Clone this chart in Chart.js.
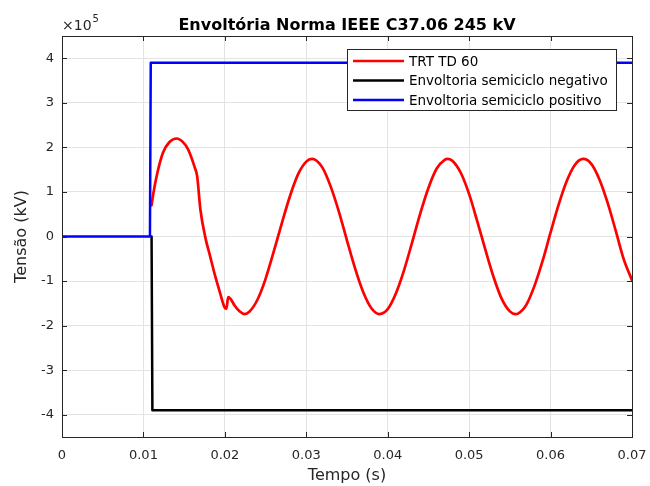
<html>
<head>
<script src="https://cdn.jsdelivr.net/npm/chart.js@4/dist/chart.umd.min.js"></script>
<style>body{margin:0;background:#fff}</style>
</head>
<body>
<canvas id="output" width="650" height="486"></canvas>
<script>
// values in units of 1e5 V, time in s
var tRed = [0.0110, 0.0112, 0.0117, 0.0124, 0.0132, 0.0141, 0.0148, 0.0155, 0.0163, 0.0166,
  0.0170, 0.0176, 0.0182, 0.0188, 0.0194, 0.0200, 0.0202, 0.0204, 0.0207, 0.0212, 0.0218, 0.0224,
  0.023, 0.024, 0.025, 0.026, 0.027, 0.028, 0.029, 0.030, 0.0307, 0.031, 0.032, 0.033, 0.034,
  0.035, 0.036, 0.037, 0.038, 0.039, 0.040, 0.041, 0.042, 0.043, 0.044, 0.045, 0.046, 0.047,
  0.0474, 0.048, 0.049, 0.050, 0.051, 0.052, 0.053, 0.054, 0.055, 0.0557, 0.056, 0.057, 0.058,
  0.059, 0.060, 0.061, 0.062, 0.063, 0.064, 0.065, 0.066, 0.067, 0.068, 0.069, 0.070];
var vRed = [0.70, 0.95, 1.42, 1.88, 2.12, 2.20, 2.13, 1.95, 1.55, 1.35,
  0.60, -0.02, -0.45, -0.88, -1.26, -1.60, -1.62, -1.36, -1.40, -1.55, -1.68, -1.74,
  -1.69, -1.42, -0.95, -0.34, 0.30, 0.91, 1.40, 1.68, 1.74, 1.73, 1.54, 1.12, 0.56,
  -0.09, -0.72, -1.25, -1.61, -1.74, -1.63, -1.28, -0.76, -0.13, 0.52, 1.09, 1.52, 1.72,
  1.74, 1.69, 1.42, 0.95, 0.34, -0.30, -0.91, -1.40, -1.68, -1.74, -1.73, -1.54, -1.12,
  -0.56, 0.09, 0.72, 1.25, 1.61, 1.74, 1.63, 1.28, 0.76, 0.13, -0.52, -0.98];
var tNeg = [0.0110, 0.0111, 0.070];
var vNeg = [0, -3.9, -3.9];
var tPos = [0, 0.0108, 0.0109, 0.070];
var vPos = [0, 0, 3.9, 3.9];
var xTicks = [0, 0.01, 0.02, 0.03, 0.04, 0.05, 0.06, 0.07];
var yTicks = [-4, -3, -2, -1, 0, 1, 2, 3, 4];

var FONT = '"DejaVu Sans", Verdana, sans-serif';
var INK = '#262626';

function pts(t, v) {
  return t.map(function (x, i) { return {x: x, y: v[i]}; });
}

var framePlugin = {
  id: 'frame',
  beforeDraw: function (chart) {
    var c = chart.ctx;
    c.save();
    c.fillStyle = '#fff';
    c.fillRect(0, 0, chart.width, chart.height);
    c.restore();
  },
  afterDraw: function (chart) {
    var c = chart.ctx, a = chart.chartArea;
    var xs = chart.scales.x, ys = chart.scales.y;
    c.save();
    // box + inward ticks
    c.strokeStyle = INK;
    c.lineWidth = 1;
    c.strokeRect(Math.round(a.left) + 0.5, Math.round(a.top) + 0.5,
      Math.round(a.right - a.left), Math.round(a.bottom - a.top));
    c.beginPath();
    xTicks.forEach(function (t) {
      var px = Math.round(xs.getPixelForValue(t)) + 0.5;
      c.moveTo(px, a.bottom); c.lineTo(px, a.bottom - 5);
      c.moveTo(px, a.top); c.lineTo(px, a.top + 5);
    });
    yTicks.forEach(function (v) {
      var py = Math.round(ys.getPixelForValue(v)) + 0.5;
      c.moveTo(a.left, py); c.lineTo(a.left + 5, py);
      c.moveTo(a.right, py); c.lineTo(a.right - 5, py);
    });
    c.stroke();

    // exponent label
    c.fillStyle = INK;
    c.textBaseline = 'alphabetic';
    c.font = '14px ' + FONT;
    c.fillText('\u00d710', 62, 30);
    var w = c.measureText('\u00d710').width;
    c.font = '10px ' + FONT;
    c.fillText('5', 62 + w + 1, 22);

    // title
    c.font = 'bold 16px ' + FONT;
    c.textAlign = 'center';
    c.fillStyle = '#000';
    c.fillText('Envoltória Norma IEEE C37.06 245 kV', (a.left + a.right) / 2, 30);

    // legend box
    var lx = 347.5, ly = 49.5, lw = 269, lh = 61;
    c.fillStyle = '#fff';
    c.fillRect(lx, ly, lw, lh);
    c.strokeStyle = INK;
    c.strokeRect(lx, ly, lw, lh);
    c.font = '13.5px ' + FONT;
    c.textAlign = 'left';
    c.textBaseline = 'middle';
    chart.data.datasets.forEach(function (ds, i) {
      var y = 61 + i * 19.5;
      c.strokeStyle = ds.borderColor;
      c.lineWidth = 2.5;
      c.beginPath();
      c.moveTo(353, y); c.lineTo(404, y);
      c.stroke();
      c.fillStyle = '#000';
      c.fillText(ds.label, 409, y + 1);
    });
    c.restore();
  }
};

var ctx = document.getElementById('output').getContext('2d');
var myChart = new Chart(ctx, {
  type: 'line',
  data: {
    datasets: [{
      label: 'TRT TD 60',
      data: pts(tRed, vRed),
      borderColor: '#ff0000',
      borderWidth: 2.7,
      cubicInterpolationMode: 'monotone',
      order: 3
    }, {
      label: 'Envoltoria semiciclo negativo',
      data: pts(tNeg, vNeg),
      borderColor: '#000000',
      borderWidth: 2.5,
      tension: 0,
      order: 2
    }, {
      label: 'Envoltoria semiciclo positivo',
      data: pts(tPos, vPos),
      borderColor: '#0000ff',
      borderWidth: 2.5,
      tension: 0,
      order: 1
    }]
  },
  options: {
    responsive: false,
    animation: false,
    parsing: false,
    elements: {point: {radius: 0}, line: {borderCapStyle: 'round', borderJoinStyle: 'round'}},
    layout: {padding: {top: 36, right: 18, left: 0, bottom: 0}},
    plugins: {legend: {display: false}, tooltip: {enabled: false}},
    scales: {
      x: {
        type: 'linear',
        min: 0,
        max: 0.07,
        afterFit: function (s) { s.height = 49; s.paddingLeft = 0; s.paddingRight = 0; },
        afterBuildTicks: function (s) { s.ticks = xTicks.map(function (v) { return {value: v}; }); },
        grid: {color: '#e3e3e3', drawTicks: false},
        border: {display: false},
        ticks: {
          padding: 11,
          color: INK,
          font: {family: FONT, size: 13},
          maxRotation: 0,
          callback: function (v) { return String(Number(v.toFixed(2))); }
        },
        title: {display: true, text: 'Tempo (s)', color: INK, font: {family: FONT, size: 16}, padding: {top: 0, bottom: 1}}
      },
      y: {
        type: 'linear',
        min: -4.5,
        max: 4.5,
        afterFit: function (s) { s.width = 62; s.paddingTop = 0; s.paddingBottom = 0; },
        afterBuildTicks: function (s) { s.ticks = yTicks.map(function (v) { return {value: v}; }); },
        grid: {color: '#e3e3e3', drawTicks: false},
        border: {display: false},
        ticks: {
          padding: 8,
          color: INK,
          font: {family: FONT, size: 13},
          callback: function (v) { return String(v); }
        },
        title: {display: true, text: 'Tensão (kV)', color: INK, font: {family: FONT, size: 16}, padding: {top: 12, bottom: 0}}
      }
    }
  },
  plugins: [framePlugin]
});
</script>
</body>
</html>
